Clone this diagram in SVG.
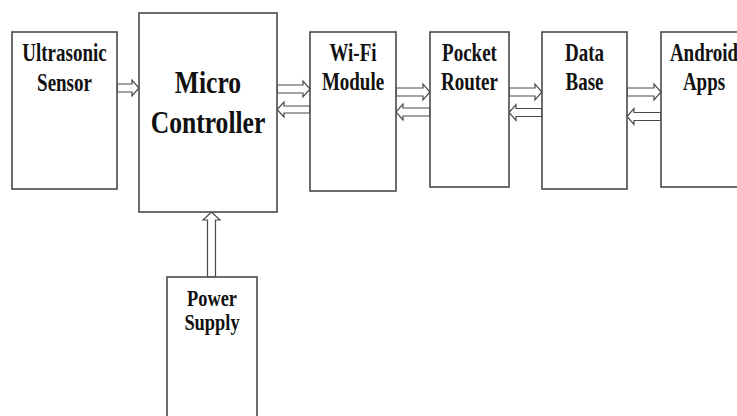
<svg xmlns="http://www.w3.org/2000/svg" width="737" height="416" viewBox="0 0 737 416">
<style>
.box{fill:#fff;stroke:#4a4a4a;stroke-width:1.6}
.arr{fill:#fff;stroke:#4a4a4a;stroke-width:1.2;stroke-linejoin:miter}
.t{font-family:'Liberation Serif','DejaVu Serif',serif;font-weight:bold;fill:#111;text-anchor:middle}
.s{font-size:25px}
.p{font-size:23px}
.b{font-size:32px}
</style>
<rect width="737" height="416" fill="#fff"/>
<g id="connectors">
<path class="arr" d="M117,84 L132,84 L132,80 L139,88 L132,96 L132,92 L117,92 Z"/>
<path class="arr" d="M277,85 L303,85 L303,81 L310,89 L303,97 L303,93 L277,93 Z"/>
<path class="arr" d="M310,106 L284,106 L284,102 L277,109.5 L284,117 L284,113 L310,113 Z"/>
<path class="arr" d="M396,88 L423,88 L423,84 L430,92 L423,100 L423,96 L396,96 Z"/>
<path class="arr" d="M430,108 L403,108 L403,104 L396,112 L403,120 L403,116 L430,116 Z"/>
<path class="arr" d="M509,88 L535,88 L535,84 L542,92 L535,100 L535,96 L509,96 Z"/>
<path class="arr" d="M542,108.5 L516,108.5 L516,104.5 L509,112.5 L516,120.5 L516,116.5 L542,116.5 Z"/>
<path class="arr" d="M627,88 L654,88 L654,84 L661,92 L654,100 L654,96 L627,96 Z"/>
<path class="arr" d="M661,112.5 L634,112.5 L634,108.5 L627,116.5 L634,124.5 L634,120.5 L661,120.5 Z"/>
<path class="arr" d="M207.5,277 L207.5,220 L203,220 L211.5,212 L220,220 L215.5,220 L215.5,277 Z"/>
</g>
<g id="ultrasonic">
<rect class="box" x="12" y="32" width="105" height="157"/>
<text class="t s" font-family="Liberation Serif, serif" transform="translate(64.5,61) scale(0.76,1)">Ultrasonic</text>
<text class="t s" font-family="Liberation Serif, serif" transform="translate(64.5,91) scale(0.76,1)">Sensor</text>
</g>
<g id="micro">
<rect class="box" x="139" y="13" width="138" height="199"/>
<text class="t b" font-family="Liberation Serif, serif" transform="translate(208,93) scale(0.8,1)">Micro</text>
<text class="t b" font-family="Liberation Serif, serif" transform="translate(208,133) scale(0.8,1)">Controller</text>
</g>
<g id="wifi">
<rect class="box" x="310" y="32" width="86" height="159"/>
<text class="t s" font-family="Liberation Serif, serif" transform="translate(353,61) scale(0.76,1)">Wi-Fi</text>
<text class="t s" font-family="Liberation Serif, serif" transform="translate(353,90) scale(0.76,1)">Module</text>
</g>
<g id="router">
<rect class="box" x="430" y="32" width="79" height="155"/>
<text class="t s" font-family="Liberation Serif, serif" transform="translate(469.5,61) scale(0.76,1)">Pocket</text>
<text class="t s" font-family="Liberation Serif, serif" transform="translate(469.5,90) scale(0.76,1)">Router</text>
</g>
<g id="database">
<rect class="box" x="542" y="32" width="85" height="157"/>
<text class="t s" font-family="Liberation Serif, serif" transform="translate(584.5,61) scale(0.76,1)">Data</text>
<text class="t s" font-family="Liberation Serif, serif" transform="translate(584.5,90) scale(0.76,1)">Base</text>
</g>
<g id="android">
<rect class="box" x="661" y="32" width="90" height="155"/>
<text class="t s" font-family="Liberation Serif, serif" transform="translate(704,61) scale(0.76,1)">Android</text>
<text class="t s" font-family="Liberation Serif, serif" transform="translate(704,90) scale(0.76,1)">Apps</text>
</g>
<g id="power">
<rect class="box" x="167" y="277" width="90" height="150"/>
<text class="t p" font-family="Liberation Serif, serif" transform="translate(212,306) scale(0.8,1)">Power</text>
<text class="t p" font-family="Liberation Serif, serif" transform="translate(212,330) scale(0.8,1)">Supply</text>
</g>
</svg>
